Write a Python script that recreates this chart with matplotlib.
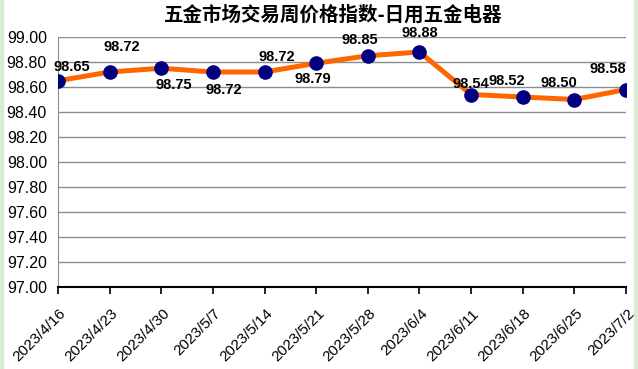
import numpy as np
import matplotlib
matplotlib.use("Agg")
import matplotlib.pyplot as plt
from matplotlib.patches import Rectangle
import matplotlib.transforms as mtransforms

plt.rcParams['font.family'] = ['Liberation Sans', 'Noto Sans CJK SC', 'DejaVu Sans']

# data
dates = ["2023/4/16", "2023/4/23", "2023/4/30", "2023/5/7", "2023/5/14", "2023/5/21",
         "2023/5/28", "2023/6/4", "2023/6/11", "2023/6/18", "2023/6/25", "2023/7/2"]
values = [98.65, 98.72, 98.75, 98.72, 98.72, 98.79, 98.85, 98.88, 98.54, 98.52, 98.50, 98.58]
title = "五金市场交易周价格指数-日用五金电器"

# label offsets from the marker, in pixels (dx, dy up)
label_off = [(14, 14), (12, 25), (13, -17), (11, -18), (12, 15), (-3, -16),
             (-8, 16), (0, 19), (0, 11), (-16, 16), (-15, 17), (-18, 21)]

fig = plt.figure(figsize=(6.38, 3.69), dpi=100)
ax = fig.add_axes([58/638, 82/369, 568/638, 250/369])

# thin spreadsheet edges
fig.patches.append(Rectangle((0, 0), 3/638, 1, transform=fig.transFigure,
                             color="#d8ecd4", zorder=0))
fig.patches.append(Rectangle((634/638, 0), 4/638, 1, transform=fig.transFigure,
                             color="#d8ecd4", zorder=0))

x = np.arange(len(values))
ax.plot(x, values, color="#ff6600", lw=3.6, zorder=3, solid_capstyle="round")
ax.plot(x, values, 'o', color="#000080", ms=9.5, zorder=4)

px = 72 / 100  # pixel -> points
for i, v in enumerate(values):
    dx, dy = label_off[i]
    ax.annotate(f"{v:.2f}", (i, v), xytext=(dx * px, dy * px), textcoords="offset points",
                ha="center", va="center", fontsize=10.5, fontweight="bold", zorder=5)

ax.set_xlim(0, len(values) - 1)
ax.set_ylim(97.0, 99.0)
ticks = np.arange(97.0, 99.01, 0.2)
ax.set_yticks(ticks)
ax.set_yticklabels([f"{t:.2f}" for t in ticks], fontsize=11.5)
ax.yaxis.grid(True, color="#8c8c8c", lw=1)
ax.set_axisbelow(True)
ax.tick_params(axis="y", length=0, pad=8)

ax.set_xticks(x)
ax.set_xticklabels(dates, fontsize=11, rotation=45, ha="right", va="top",
                   rotation_mode="anchor")
ax.tick_params(axis="x", direction="out", length=5, width=1.2, color="black", pad=4)
offset = mtransforms.ScaledTranslation(1/100, -7/100, fig.dpi_scale_trans)
for lab in ax.get_xticklabels():
    lab.set_transform(lab.get_transform() + offset)

for s in ["top", "right"]:
    ax.spines[s].set_visible(False)
ax.spines["left"].set_color("#8c8c8c")
ax.spines["bottom"].set_color("black")
ax.spines["bottom"].set_linewidth(1.5)

fig.text(333/638, 1 - 15/369, title, ha="center", va="center", fontsize=14,
         fontweight="bold", family=["Noto Sans CJK SC", "DejaVu Sans"])

fig.savefig("out.png", dpi=100)
